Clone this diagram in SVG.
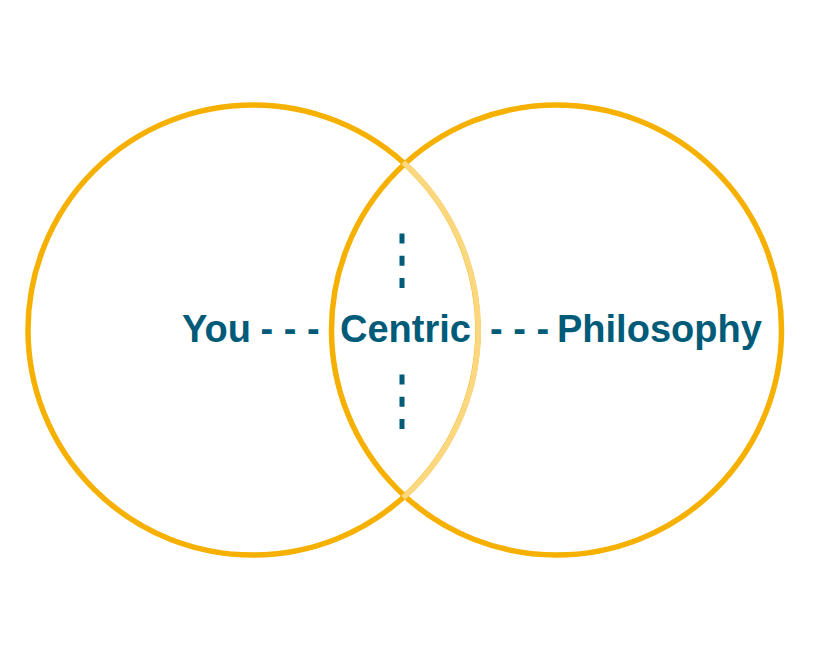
<svg xmlns="http://www.w3.org/2000/svg" width="839" height="662" viewBox="0 0 839 662">
<style>
.ring{fill:none;stroke:#F6B000;stroke-width:5.5}
.ring-light{fill:none;stroke:#FBD77F;stroke-width:5.5}
.lbl{font-family:"Liberation Sans",Arial,sans-serif;font-weight:bold;font-size:38px;fill:#005B79}
.vd{stroke:#005B79;stroke-width:5;stroke-dasharray:10 12.2;fill:none}
</style>
<rect width="839" height="662" fill="#ffffff"/>
<g id="circle-you">
<circle class="ring" cx="253" cy="330" r="225"/>
</g>
<g id="circle-philosophy">
<circle class="ring" cx="556.5" cy="330" r="225"/>
</g>
<g id="overlap-arc">
<path class="ring-light" d="M403.2 162.2 A225 225 0 0 1 403.2 497.8"/>
</g>
<g id="connectors">
<line class="vd" x1="402" y1="233.5" x2="402" y2="290"/>
<line class="vd" x1="402" y1="374.5" x2="402" y2="431"/>
<text class="lbl" x="290" y="342" text-anchor="middle">- - -</text>
<text class="lbl" x="519.5" y="342" text-anchor="middle">- - -</text>
</g>
<g id="node-you"><text class="lbl" x="182" y="342">You</text></g>
<g id="node-centric"><text class="lbl" x="340" y="342">Centric</text></g>
<g id="node-philosophy"><text class="lbl" x="557" y="342">Philosophy</text></g>
</svg>
